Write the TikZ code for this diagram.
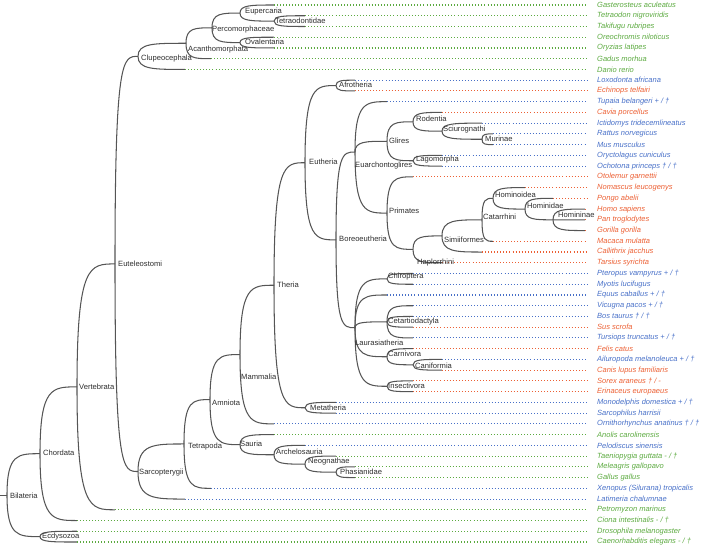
\documentclass[tikz,border=0pt]{standalone}
\usepackage{fontspec}
\setmainfont{Liberation Sans}
\usetikzlibrary{calc}
\definecolor{tgreen}{RGB}{92,170,64}
\definecolor{tblue}{RGB}{72,112,200}
\definecolor{tred}{RGB}{236,96,52}
\definecolor{tline}{RGB}{85,85,85}
\definecolor{tlab}{RGB}{45,45,45}
\begin{document}
\begin{tikzpicture}[x=1pt,y=-1pt,
  tree/.style={draw=tline,line width=1.05pt},
  dots/.style={line width=1.1pt,dash pattern=on 1pt off 2.05pt},
  clade/.style={anchor=west,inner sep=0pt,text=tlab,font=\fontsize{7.6}{9}\selectfont},
  leaf/.style={anchor=west,inner sep=0pt,font=\fontsize{7.5}{9}\selectfont\itshape}]
\useasboundingbox (0,0) rectangle (706,547);
% internal nodes
\coordinate (root) at (0,495.16);
\coordinate (bil) at (7,495.16);
\coordinate (cho) at (40,453.69);
\coordinate (ecd) at (40,536.63);
\coordinate (ver) at (77,386.86);
\coordinate (eut) at (115,263.93);
\coordinate (clu) at (138,56.35);
\coordinate (aca) at (186,43.26);
\coordinate (per) at (212,27.82);
\coordinate (eupe) at (240,13.06);
\coordinate (tetr) at (274,21.11);
\coordinate (oval) at (240,42.59);
\coordinate (sar) at (138,471.50);
\coordinate (tet) at (184,443.96);
\coordinate (amn) at (210,399.61);
\coordinate (mam) at (240,354.55);
\coordinate (the) at (274,285.24);
\coordinate (euth) at (305,162.72);
\coordinate (meta) at (305,407.75);
\coordinate (afro) at (336,85.55);
\coordinate (bor) at (336,239.88);
\coordinate (eua) at (355,152.01);
\coordinate (gli) at (387,141.27);
\coordinate (rod) at (413,121.80);
\coordinate (sci) at (442,131.20);
\coordinate (mur) at (482,139.25);
\coordinate (lag) at (413,160.73);
\coordinate (pri) at (387,213.09);
\coordinate (hap) at (413,249.34);
\coordinate (sim) at (442,235.91);
\coordinate (cat) at (482,219.80);
\coordinate (hoi) at (493,198.32);
\coordinate (hom) at (525,209.06);
\coordinate (hmn) at (553,219.80);
\coordinate (lau) at (355,327.74);
\coordinate (chi) at (387,278.87);
\coordinate (cet) at (387,321.83);
\coordinate (car) at (387,356.74);
\coordinate (can) at (413,364.79);
\coordinate (ins) at (387,386.27);
\coordinate (sau) at (240,444.67);
\coordinate (arc) at (274,454.74);
\coordinate (neo) at (305,464.14);
\coordinate (pha) at (336,472.19);
% internal edges (rounded elbow curves)
\draw[tree] (root) -- (bil);
\foreach \p/\c in {bil/cho,bil/ecd,cho/ver,ver/eut,eut/clu,eut/sar,clu/aca,aca/per,
  per/eupe,per/oval,eupe/tetr,sar/tet,tet/amn,amn/mam,amn/sau,mam/the,the/euth,the/meta,
  euth/afro,euth/bor,bor/eua,bor/lau,eua/gli,eua/pri,gli/rod,gli/lag,rod/sci,sci/mur,
  pri/hap,hap/sim,sim/cat,cat/hoi,hoi/hom,hom/hmn,lau/chi,lau/cet,lau/car,lau/ins,car/can,
  sau/arc,arc/neo,neo/pha}
  \draw[tree] (\p) .. controls (\p |- \c) and ($(\c)!0.6667!(\p |- \c)$) .. (\c);
% leaves
\foreach \i/\pp/\tx/\col/\name in {
 1/eupe/274/tgreen/{Gasterosteus aculeatus},
 2/tetr/305/tgreen/{Tetraodon nigroviridis},
 3/tetr/305/tgreen/{Takifugu rubripes},
 4/oval/274/tgreen/{Oreochromis niloticus},
 5/oval/274/tgreen/{Oryzias latipes},
 6/aca/211/tgreen/{Gadus morhua},
 7/clu/185/tgreen/{Danio rerio},
 8/afro/355/tblue/{Loxodonta africana},
 9/afro/355/tred/{Echinops telfairi},
 10/eua/387/tblue/{Tupaia belangeri + / †},
 11/rod/442/tred/{Cavia porcellus},
 12/sci/482/tblue/{Ictidomys tridecemlineatus},
 13/mur/493/tblue/{Rattus norvegicus},
 14/mur/493/tblue/{Mus musculus},
 15/lag/442/tblue/{Oryctolagus cuniculus},
 16/lag/442/tblue/{Ochotona princeps † / †},
 17/pri/413/tred/{Otolemur garnettii},
 18/hoi/525/tred/{Nomascus leucogenys},
 19/hom/553/tred/{Pongo abelii},
 20/hmn/585/tred/{Homo sapiens},
 21/hmn/585/tred/{Pan troglodytes},
 22/hmn/585/tred/{Gorilla gorilla},
 23/cat/493/tred/{Macaca mulatta},
 24/sim/482/tred/{Callithrix jacchus},
 25/hap/442/tred/{Tarsius syrichta},
 26/chi/413/tblue/{Pteropus vampyrus + / †},
 27/chi/413/tblue/{Myotis lucifugus},
 28/lau/387/tblue/{Equus caballus + / †},
 29/cet/413/tblue/{Vicugna pacos + / †},
 30/cet/413/tblue/{Bos taurus † / †},
 31/cet/413/tred/{Sus scrofa},
 32/cet/413/tblue/{Tursiops truncatus + / †},
 33/car/413/tred/{Felis catus},
 34/can/442/tblue/{Ailuropoda melanoleuca + / †},
 35/can/442/tred/{Canis lupus familiaris},
 36/ins/413/tred/{Sorex araneus † / -},
 37/ins/413/tred/{Erinaceus europaeus},
 38/meta/336/tblue/{Monodelphis domestica + / †},
 39/meta/336/tblue/{Sarcophilus harrisii},
 40/mam/274/tblue/{Ornithorhynchus anatinus † / †},
 41/sau/274/tgreen/{Anolis carolinensis},
 42/arc/305/tblue/{Pelodiscus sinensis},
 43/neo/336/tgreen/{Taeniopygia guttata - / †},
 44/pha/355/tgreen/{Meleagris gallopavo},
 45/pha/355/tgreen/{Gallus gallus},
 46/tet/211/tblue/{Xenopus (Silurana) tropicalis},
 47/sar/185/tblue/{Latimeria chalumnae},
 48/ver/115/tgreen/{Petromyzon marinus},
 49/cho/77/tgreen/{Ciona intestinalis - / †},
 50/ecd/77/tgreen/{Drosophila melanogaster},
 51/ecd/77/tgreen/{Caenorhabditis elegans - / †}}
{
  \pgfmathsetmacro\yy{5+10.74*(\i-1)}
  \coordinate (t\i) at (\tx,\yy);
  \coordinate (e\i) at (587,\yy);
  \draw[tree] (\pp) .. controls (\pp |- t\i) and ($(t\i)!0.6667!(\pp |- t\i)$) .. (t\i);
  \draw[dots,draw=\col] (t\i) -- (e\i);
  \node[leaf,text=\col] (l\i) at (597,\yy) {\name};
}
% clade labels
\foreach \n/\x/\y/\t in {
 Lbil/10/495.5/Bilateria, Lcho/43/453/Chordata, Lecd/42/537/Ecdysozoa,
 Lver/79/387/Vertebrata, Leut/118/264/Euteleostomi, Lclu/141/59/Clupeocephala,
 Laca/188/50/Acanthomorphata, Lper/212/30/Percomorphaceae, Leupe/245/12/Eupercaria,
 Ltetr/275/21/Tetraodontidae, Loval/245/42/Ovalentaria, Lsar/139/473/Sarcopterygii,
 Ltet/188/447/Tetrapoda, Lamn/212/403/Amniota, Lmam/241/377/Mammalia,
 Lsau/240/444/Sauria, Larc/276/452/Archelosauria, Lneo/308/462/Neognathae,
 Lpha/340/472/Phasianidae, Lthe/277/285/Theria, Leuth/309/162/Eutheria,
 Lmeta/310/408/Metatheria, Lafro/339/85/Afrotheria, Lbor/339/239/Boreoeutheria,
 Leua/355/166/Euarchontoglires, Lgli/389/141/Glires, Lrod/416/119/Rodentia,
 Lsci/443/130/Sciurognathi, Lmur/485/139/Murinae, Llag/416/160/Lagomorpha,
 Lpri/389/211/Primates, Lhap/417/263/Haplorrhini, Lsim/444/240/Simiiformes,
 Lcat/483/217/Catarrhini, Lhoi/495/195/Hominoidea, Lhom/527/206/Hominidae,
 Lhmn/558/215/Homininae, Llau/355/343/Laurasiatheria, Lchi/388/277/Chiroptera,
 Lcet/388/322/Cetartiodactyla, Lcar/388/354/Carnivora, Lcan/415/366/Caniformia,
 Lins/388/386/Insectivora}
  \node[clade] (\n) at (\x,\y) {\t};
\end{tikzpicture}
\end{document}
